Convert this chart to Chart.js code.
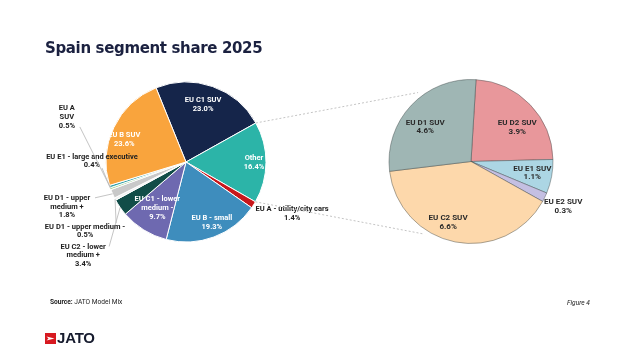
<!DOCTYPE html>
<html>
<head>
<meta charset="utf-8">
<script src="https://cdn.jsdelivr.net/npm/chart.js@4.4.1/dist/chart.umd.min.js"></script>
<style>
html,body{margin:0;padding:0;background:#ffffff;}
#wrap{position:relative;width:637px;height:358px;overflow:hidden;background:#fff;}
canvas{position:absolute;left:0;top:0;}
#title{position:absolute;left:45px;top:39px;font:bold 15px 'DejaVu Sans',sans-serif;color:#1b2140;white-space:nowrap;letter-spacing:-0.35px;}
#source{position:absolute;left:50px;top:298px;font:6.6px Roboto,sans-serif;color:#222;white-space:nowrap;}
#source b{font-weight:bold;}
#figure{position:absolute;left:567px;top:299px;font:italic 6.6px Roboto,sans-serif;color:#222;white-space:nowrap;}
#logo{position:absolute;left:45px;top:332px;height:13px;white-space:nowrap;}
#logo svg{position:absolute;left:0;top:1px;}
#logo span{position:absolute;left:12px;top:-3px;font:bold 15px 'Liberation Sans',Arial,sans-serif;color:#161b2e;letter-spacing:-0.2px;}
</style>
</head>
<body>
<div id="wrap">
  <canvas id="mainPie" width="637" height="358"></canvas>
  <canvas id="subPie" width="637" height="358"></canvas>
  <div id="title">Spain segment share 2025</div>
  <div id="source"><b>Source:</b> JATO Model Mix</div>
  <div id="figure">Figure 4</div>
  <div id="logo"><svg width="11" height="11" viewBox="0 0 11 11"><rect width="11" height="11" fill="#d71920"/><path d="M1.5 3.5 L9.5 5.5 L1.5 7.5 L3.5 5.5 Z" fill="#ffffff"/></svg><span>JATO</span></div>
</div>
<script>
// ---------- DATA ----------
const mainCategories = [
  'EU C1 SUV', 'Other', 'EU A - utility/city cars', 'EU B - small',
  'EU C1 - lower medium -', 'EU C2 - lower medium +', 'EU D1 - upper medium -',
  'EU D1 - upper medium +', 'EU E1 - large and executive', 'EU A SUV', 'EU B SUV'
];
const mainValues = [23.0, 16.4, 1.4, 19.3, 9.7, 3.4, 0.5, 1.8, 0.4, 0.5, 23.6];

const subCategories = ['EU D2 SUV', 'EU E1 SUV', 'EU E2 SUV', 'EU C2 SUV', 'EU D1 SUV'];
const subValues = [3.9, 1.1, 0.3, 6.6, 4.6];

// ---------- STYLE ----------
const mainColors = ['#15254a', '#2cb4a8', '#c8171c', '#3e8dbd', '#6e69b0', '#114d48',
                    '#f2f2f2', '#c9c9c9', '#a6d49a', '#35a3a8', '#f9a43d'];
const subColors = ['#e8979b', '#acd6e4', '#c4bfe2', '#fdd8ab', '#9fb6b4'];

// label layout: wrapped lines of category name, colour, radius fraction, offsets, leader start offset
const mainLabelStyle = [
  {wrap: ['EU C1 SUV'], color: '#fff', f: 0.72, dx: -2, dy: -3},
  {wrap: ['Other'], color: '#fff', f: 0.85, dx: 0, dy: 0},
  {wrap: ['EU A - utility/city cars'], color: '#222', f: 1.0, dx: 38.5, dy: 8.6},
  {wrap: ['EU B - small'], color: '#fff', f: 0.82, dx: 3, dy: -1},
  {wrap: ['EU C1 - lower', 'medium -'], color: '#fff', f: 0.68, dx: 0, dy: 0},
  {wrap: ['EU C2 - lower', 'medium +'], color: '#222', f: 1.0, dx: -37, dy: 48, leader: [26, -9]},
  {wrap: ['EU D1 - upper medium -'], color: '#222', f: 1.0, dx: -30, dy: 32, leader: [31, -8]},
  {wrap: ['EU D1 - upper', 'medium +'], color: '#222', f: 1.0, dx: -45.6, dy: 13, leader: [28, -9]},
  {wrap: ['EU E1 - large and executive'], color: '#222', f: 1.0, dx: -18.6, dy: -27.7, leader: [10, 7]},
  {wrap: ['EU A', 'SUV'], color: '#222', f: 1.0, dx: -43, dy: -69.6, leader: [13, 10]},
  {wrap: ['EU B SUV'], color: '#fff', f: 0.8, dx: -4, dy: 5}
];
const subLabelStyle = [
  {wrap: ['EU D2 SUV'], color: '#2a2a2a', f: 0.7, dx: 5, dy: 6},
  {wrap: ['EU E1 SUV'], color: '#2a2a2a', f: 0.76, dx: 0, dy: 0},
  {wrap: ['EU E2 SUV'], color: '#2a2a2a', f: 1.25, dx: 0, dy: 0},
  {wrap: ['EU C2 SUV'], color: '#2a2a2a', f: 0.75, dx: -11, dy: 1},
  {wrap: ['EU D1 SUV'], color: '#2a2a2a', f: 0.7, dx: -4, dy: 5}
];

const LABEL_FONT = 'bold 7.5px Roboto, sans-serif';
const SUB_LABEL_FONT = 'bold 8px Roboto, sans-serif';
const LINE_H = 8.7;

function arcPoint(el, frac) {
  const mid = (el.startAngle + el.endAngle) / 2;
  return {x: el.x + Math.cos(mid) * el.outerRadius * frac, y: el.y + Math.sin(mid) * el.outerRadius * frac};
}

const sliceLabels = {
  id: 'sliceLabels',
  afterDatasetsDraw(chart, args, opts) {
    const ctx = chart.ctx;
    const meta = chart.getDatasetMeta(0);
    const values = chart.data.datasets[0].data;
    ctx.save();
    ctx.font = opts.font;
    ctx.textAlign = 'center';
    ctx.textBaseline = 'middle';
    meta.data.forEach((el, i) => {
      const st = opts.styles[i];
      const p = arcPoint(el, st.f);
      const cx = p.x + st.dx, cy = p.y + st.dy;
      const lines = st.wrap.concat([values[i].toFixed(1) + '%']);
      if (st.leader) {
        const edge = arcPoint(el, 1.0);
        ctx.strokeStyle = '#b5b5b5';
        ctx.lineWidth = 0.8;
        ctx.beginPath();
        ctx.moveTo(cx + st.leader[0], cy + st.leader[1]);
        ctx.lineTo(edge.x, edge.y);
        ctx.stroke();
      }
      ctx.fillStyle = st.color;
      const y0 = cy - (lines.length - 1) * LINE_H / 2;
      lines.forEach((t, k) => ctx.fillText(t, cx, y0 + k * LINE_H));
    });
    ctx.restore();
  }
};

const mainChart = new Chart(document.getElementById('mainPie'), {
  type: 'pie',
  data: {
    labels: mainCategories,
    datasets: [{data: mainValues, backgroundColor: mainColors, borderColor: '#ffffff', borderWidth: 1}]
  },
  options: {
    responsive: false, animation: false, rotation: -22, radius: 80,
    layout: {padding: {left: 101, right: 366, top: 77, bottom: 111}},
    plugins: {legend: {display: false}, tooltip: {enabled: false},
      sliceLabels: {styles: mainLabelStyle, font: LABEL_FONT}}
  },
  plugins: [sliceLabels]
});

const connectors = {
  id: 'connectors',
  beforeDatasetsDraw(chart) {
    const other = mainChart.getDatasetMeta(0).data[1];
    const sub = chart.getDatasetMeta(0).data[0];
    const ctx = chart.ctx;
    const p1 = {x: other.x + Math.cos(other.startAngle) * other.outerRadius, y: other.y + Math.sin(other.startAngle) * other.outerRadius};
    const p2 = {x: other.x + Math.cos(other.endAngle) * other.outerRadius, y: other.y + Math.sin(other.endAngle) * other.outerRadius};
    const a1 = (-37.5 - 90) * Math.PI / 180, a2 = (213.7 - 90) * Math.PI / 180;
    const R = sub.outerRadius * 1.06;
    const q1 = {x: sub.x + Math.cos(a1) * R, y: sub.y + Math.sin(a1) * R};
    const q2 = {x: sub.x + Math.cos(a2) * R, y: sub.y + Math.sin(a2) * R};
    ctx.save();
    ctx.strokeStyle = '#c4c4c4';
    ctx.lineWidth = 1;
    ctx.setLineDash([2, 2]);
    ctx.beginPath();
    ctx.moveTo(p1.x, p1.y); ctx.lineTo(q1.x, q1.y);
    ctx.moveTo(p2.x, p2.y); ctx.lineTo(q2.x, q2.y);
    ctx.stroke();
    ctx.restore();
  }
};

const subChart = new Chart(document.getElementById('subPie'), {
  type: 'pie',
  data: {
    labels: subCategories,
    datasets: [{data: subValues, backgroundColor: subColors, borderColor: 'rgba(60,70,70,0.55)', borderWidth: 0.8}]
  },
  options: {
    responsive: false, animation: false, rotation: 3.5, radius: 82,
    layout: {padding: {left: 386, right: 81, top: 76, bottom: 111}},
    plugins: {legend: {display: false}, tooltip: {enabled: false},
      sliceLabels: {styles: subLabelStyle, font: SUB_LABEL_FONT}}
  },
  plugins: [connectors, sliceLabels]
});
</script>
</body>
</html>
